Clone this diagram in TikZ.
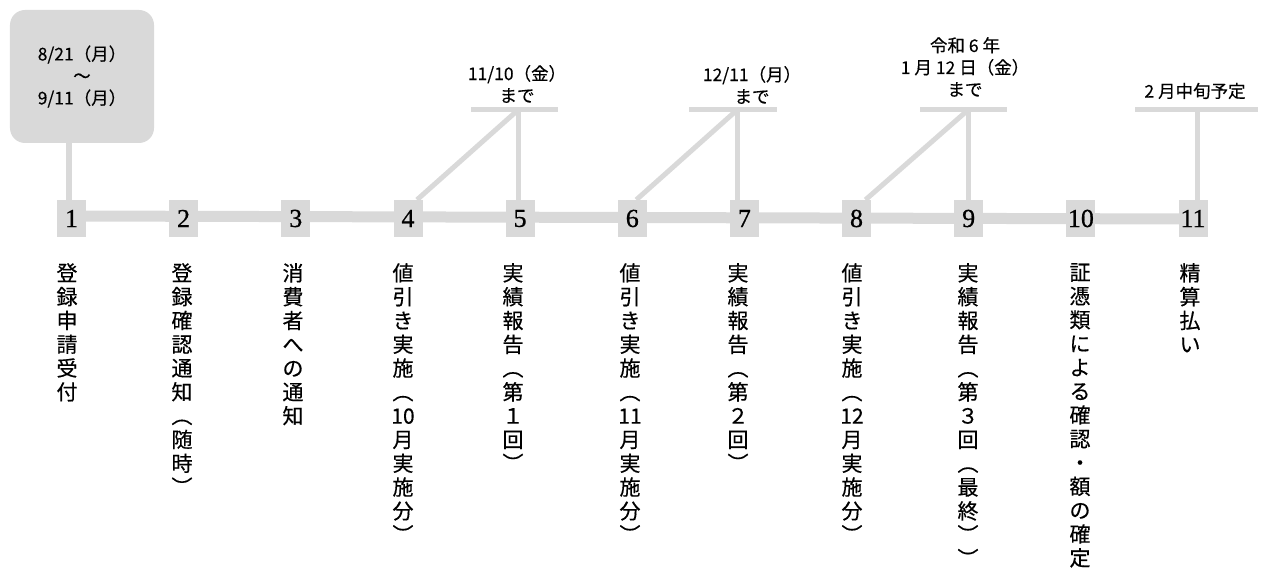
\documentclass[tikz,border=0pt]{standalone}
\usepackage{fontspec}
\newfontfamily\jp[FakeBold=0.4]{Noto Sans CJK JP}
\newfontfamily\numfont[FakeBold=0.7]{Liberation Serif}
\usetikzlibrary{backgrounds,calc}
\definecolor{lg}{HTML}{D9D9D9}
\tikzset{
 numbox/.style={fill=lg, minimum width=29bp, minimum height=37bp, inner sep=0pt, font=\numfont\fontsize{26bp}{26bp}\selectfont},
 vlabel/.style={anchor=north, align=center, inner sep=0pt, font=\jp\fontsize{21bp}{23.8bp}\selectfont},
 toplabel/.style={align=center, inner sep=0pt, font=\jp\fontsize{17.5bp}{22bp}\selectfont},
 datebox/.style={fill=lg, rounded corners=15bp, minimum width=144bp, minimum height=133bp},
 mainline/.style={draw=lg, line width=11bp},
 conn/.style={draw=lg, line width=5bp},
}
\begin{document}
\begin{tikzpicture}[x=1bp,y=-1bp]
\useasboundingbox (0,0) rectangle (1261,574);
% number squares
\node[numbox] (n1) at (71.5,218.5) {1};
\node[numbox] (n2) at (183.6,218.5) {2};
\node[numbox] (n3) at (295.8,218.5) {3};
\node[numbox] (n4) at (408,218.5) {4};
\node[numbox] (n5) at (520.1,218.5) {5};
\node[numbox] (n6) at (632.3,218.5) {6};
\node[numbox] (n7) at (744.4,218.5) {7};
\node[numbox] (n8) at (856.5,218.5) {8};
\node[numbox] (n9) at (968.7,218.5) {9};
\node[numbox] (n10) at (1080.9,218.5) {10};
\node[numbox] (n11) at (1193,218.5) {11};
\begin{scope}[on background layer]
\draw[mainline] ([yshift=2.5bp]n1.center) -- ([yshift=-0.5bp]n11.center);
\end{scope}
% date box
\node[datebox, toplabel] (box1) at (82,76.5) {8/21（月）\\～\\9/11（月）};
\draw[conn, line width=6bp] ([xshift=-2.5bp]n1.north) -- ([xshift=-2.5bp]n1.north |- box1.south);
% deadline bars
\coordinate (b5l) at (471,110); \coordinate (b5r) at (558,110); \coordinate (b5) at (518,110);
\coordinate (b7l) at (689,110); \coordinate (b7r) at (777,110); \coordinate (b7) at (737,110);
\coordinate (b9l) at (920,110); \coordinate (b9r) at (1007,110); \coordinate (b9) at (968,110);
\coordinate (b11l) at (1135,110); \coordinate (b11r) at (1258,110); \coordinate (b11) at (1197,110);
\draw[conn] (b5l) -- (b5r);
\draw[conn] (b7l) -- (b7r);
\draw[conn] (b9l) -- (b9r);
\draw[conn] (b11l) -- (b11r);
\draw[conn] (b5) -- (b5 |- n5.north);
\draw[conn] (b5) -- ([xshift=9bp]n4.north);
\draw[conn] (b7) -- (b7 |- n7.north);
\draw[conn] (b7) -- ([xshift=4bp]n6.north);
\draw[conn] (b9) -- (b9 |- n9.north);
\draw[conn] (b9) -- ([xshift=9bp]n8.north);
\draw[conn] (b11) -- (b11 |- n11.north);
% deadline texts
\node[toplabel] (t5) at (517,84) {11/10（金）\\まで};
\node[toplabel] (t7) at (752,85) {12/11（月）\\まで};
\node[toplabel] (t9) at (965,67) {令和 6 年\\1 月 12 日（金）\\まで};
\node[toplabel] (t11) at (1195,91) {2 月中旬予定};
% vertical labels
\node[vlabel] (l1) at (67,263) {登\\録\\申\\請\\受\\付};
\node[vlabel] (l2) at (182,263) {登\\録\\確\\認\\通\\知\\︵\\随\\時\\︶};
\node[vlabel] (l3) at (293,263) {消\\費\\者\\へ\\の\\通\\知};
\node[vlabel] (l4) at (403,263) {値\\引\\き\\実\\施\\︵\\10\\月\\実\\施\\分\\︶};
\node[vlabel] (l5) at (513,263) {実\\績\\報\\告\\︵\\第\\１\\回\\︶};
\node[vlabel] (l6) at (630,263) {値\\引\\き\\実\\施\\︵\\11\\月\\実\\施\\分\\︶};
\node[vlabel] (l7) at (738,263) {実\\績\\報\\告\\︵\\第\\２\\回\\︶};
\node[vlabel] (l8) at (852,263) {値\\引\\き\\実\\施\\︵\\12\\月\\実\\施\\分\\︶};
\node[vlabel] (l9) at (968,263) {実\\績\\報\\告\\︵\\第\\３\\回\\︵\\最\\終\\︶\\︶};
\node[vlabel] (l10) at (1080,263) {証\\憑\\類\\に\\よ\\る\\確\\認\\・\\額\\の\\確\\定};
\node[vlabel] (l11) at (1190,263) {精\\算\\払\\い};
\end{tikzpicture}
\end{document}
